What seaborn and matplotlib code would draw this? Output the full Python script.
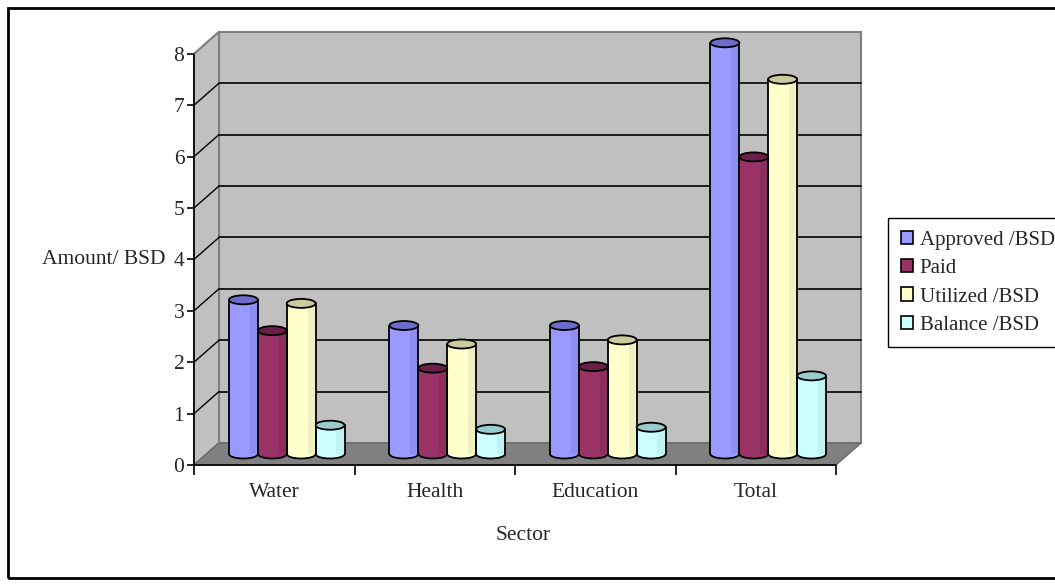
import numpy as np
import pandas as pd
import matplotlib
matplotlib.use("Agg")
import matplotlib.pyplot as plt
import seaborn as sns
from matplotlib.patches import Rectangle, Ellipse, Arc, Polygon, Patch
from matplotlib.lines import Line2D
from matplotlib.transforms import ScaledTranslation, IdentityTransform

# ---- data -------------------------------------------------------------
sectors = ["Water", "Health", "Education", "Total"]
series = ["Approved /BSD", "Paid", "Utilized /BSD", "Balance /BSD"]
approved = [3.00, 2.50, 2.50, 8.00]
paid = [2.40, 1.67, 1.70, 5.78]
utilized = [2.93, 2.14, 2.22, 7.29]
balance = [0.56, 0.48, 0.52, 1.52]
y_ticks = [0, 1, 2, 3, 4, 5, 6, 7, 8]

face_colors = ["#9999FF", "#993366", "#FFFFCC", "#CCFFFF"]
top_colors = ["#6C6CCC", "#6A1F48", "#CBCB9C", "#99CCCC"]

df = pd.DataFrame({
    "Sector": sectors * 4,
    "Series": sum([[s] * len(sectors) for s in series], []),
    "Amount": approved + paid + utilized + balance,
})

# ---- style --------------------------------------------------------------
sns.set_theme(style="white")
plt.rcParams["font.family"] = ["Liberation Serif", "DejaVu Serif"]
FS = 15.5

W, H, DPI = 1055, 586, 100
fig = plt.figure(figsize=(W / DPI, H / DPI), dpi=DPI)
fig.patch.set_facecolor("white")

# front plane of the 3-D box (pixels)
x0_px, x1_px = 194, 836
y0_px, unit_px = 465, 51.4
ax = fig.add_axes([x0_px / W, (H - y0_px) / H, (x1_px - x0_px) / W, 8 * unit_px / H])

sns.barplot(data=df, x="Sector", y="Amount", hue="Series", order=sectors,
            hue_order=series, palette=face_colors, saturation=1, width=0.72,
            linewidth=0, ax=ax, legend=False, errorbar=None)
bars = list(ax.patches)

ax.set_xlim(-0.5, 3.5)
ax.set_ylim(0, 8)
ax.patch.set_visible(False)
for s in ax.spines.values():
    s.set_visible(False)

# oblique depth of the box
DX, DY = 25, 22
full = ScaledTranslation(DX / DPI, DY / DPI, fig.dpi_scale_trans)
half = ScaledTranslation(DX / 2 / DPI, DY / 2 / DPI, fig.dpi_scale_trans)
ident = IdentityTransform()


def disp(x, y):
    return ax.transData.transform((x, y))


# back wall
ax.add_patch(Rectangle((-0.5, 0), 4, 8, transform=ax.transData + full,
                       fc="#C0C0C0", ec="#808080", lw=1.5, zorder=0, clip_on=False))
# left side wall
a, b = disp(-0.5, 0), disp(-0.5, 8)
ax.add_patch(Polygon([a, b, b + (DX, DY), a + (DX, DY)], closed=True, transform=ident,
                     fc="#C0C0C0", ec="#808080", lw=1.5, zorder=0, clip_on=False))
# floor
c, d = disp(-0.5, 0), disp(3.5, 0)
ax.add_patch(Polygon([c, d, d + (DX, DY), c + (DX, DY)], closed=True, transform=ident,
                     fc="#808080", ec="#6A6A6A", lw=1.0, zorder=0.5, clip_on=False))

# gridlines on back wall and side wall
for yv in y_ticks[1:-1]:
    ax.plot([-0.5, 3.5], [yv, yv], transform=ax.transData + full,
            color="black", lw=1.2, zorder=1, clip_on=False)
for yv in y_ticks[1:]:
    p = disp(-0.5, yv)
    ax.add_line(Line2D([p[0], p[0] + DX], [p[1], p[1] + DY], transform=ident,
                       color="black" if yv < 8 else "#808080", lw=1.0, zorder=1,
                       clip_on=False))

# ---- cylinders ---------------------------------------------------------
ell_h = 9 / unit_px
trans_bar = ax.transData + half
for i, bar in enumerate(bars):
    k = i // len(sectors)
    bx, bw, bh = bar.get_x(), bar.get_width(), bar.get_height()
    bar.set_transform(trans_bar)
    bar.set_zorder(3)
    bar.set_clip_on(False)
    # shaded right side
    ax.add_patch(Rectangle((bx + bw * 0.72, 0), bw * 0.28, bh, transform=trans_bar,
                           fc=top_colors[k], alpha=0.25, lw=0, zorder=3.1, clip_on=False))
    # rounded bottom
    ax.add_patch(Ellipse((bx + bw / 2, 0), bw, ell_h, transform=trans_bar,
                         fc=face_colors[k], lw=0, zorder=2.9, clip_on=False))
    ax.add_patch(Arc((bx + bw / 2, 0), bw, ell_h, theta1=180, theta2=360,
                     transform=trans_bar, color="black", lw=1.3, zorder=3.2, clip_on=False))
    # sides
    for xe in (bx, bx + bw):
        ax.plot([xe, xe], [0, bh], transform=trans_bar, color="black", lw=1.3,
                zorder=3.2, clip_on=False)
    # top cap
    ax.add_patch(Ellipse((bx + bw / 2, bh), bw, ell_h, transform=trans_bar,
                         fc=top_colors[k], ec="black", lw=1.3, zorder=3.3, clip_on=False))

# ---- axes, ticks, labels ---------------------------------------------
ax.plot([-0.5, -0.5], [0, 8], color="black", lw=1.2, zorder=4, clip_on=False)
ax.plot([-0.5, 3.5], [0, 0], color="black", lw=1.2, zorder=4, clip_on=False)
ax.set_yticks(y_ticks)
ax.set_yticklabels([str(v) for v in y_ticks], fontsize=FS)
ax.tick_params(axis="y", direction="out", length=5, width=1.2, color="black",
               left=True, pad=2)
ax.set_xticks(range(len(sectors)))
ax.set_xticklabels(sectors, fontsize=FS)
ax.set_xticks(np.arange(-0.5, 3.6, 1), minor=True)
ax.tick_params(axis="x", which="major", length=0, pad=13)
ax.tick_params(axis="x", which="minor", direction="out", length=7, width=1.2,
               color="black", bottom=True)

ax.set_xlabel("Sector", fontsize=FS)
ax.xaxis.set_label_coords((523 - x0_px) / (x1_px - x0_px), -(536 - y0_px) / (8 * unit_px))
ax.xaxis.label.set_va("center")
ax.set_ylabel("Amount/ BSD", fontsize=FS, rotation=0, ha="left", va="center")
ax.yaxis.set_label_coords((42 - x0_px) / (x1_px - x0_px), 4 / 8)

# legend
handles = [Patch(facecolor=c, edgecolor="black", lw=1.2) for c in face_colors]
leg = fig.legend(handles, series, loc="upper left",
                 bbox_to_anchor=(888 / W, (H - 218) / H), frameon=True,
                 fancybox=False, framealpha=1, edgecolor="black", fontsize=15,
                 handlelength=0.62, handleheight=0.62, handletextpad=0.3,
                 labelspacing=0.45, borderpad=0.6, borderaxespad=0)
leg.get_frame().set_linewidth(1.0)

# outer frame (its right side runs past the canvas edge)
fig.add_artist(Rectangle((8 / W, 8 / H), (1065 - 8) / W, (578 - 8) / H,
                         transform=fig.transFigure, fill=False, ec="black", lw=2))

fig.savefig("out.png", dpi=DPI)
